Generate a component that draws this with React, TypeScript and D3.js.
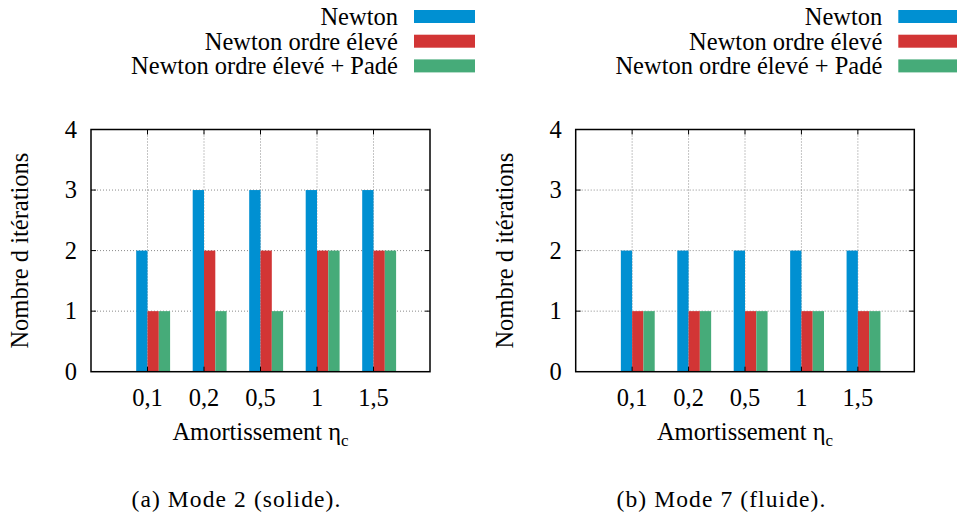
import React from "react";
import * as d3 from "d3";

const categories = ["0,1", "0,2", "0,5", "1", "1,5"];
const seriesNames = ["Newton", "Newton ordre élevé", "Newton ordre élevé + Padé"];
const seriesColors = ["#0090d2", "#d23535", "#46ab79"];
const solideNewton = [2, 3, 3, 3, 3];
const solideOrdre = [1, 2, 2, 2, 2];
const solidePade = [1, 1, 1, 2, 2];
const fluideNewton = [2, 2, 2, 2, 2];
const fluideOrdre = [1, 1, 1, 1, 1];
const fluidePade = [1, 1, 1, 1, 1];
const yTicks = [0, 1, 2, 3, 4];
const yLabel = "Nombre d itérations";
const xLabel = "Amortissement \u03B7";
const captions = ["(a) Mode 2 (solide).", "(b) Mode 7 (fluide)."];

const FONT = "Liberation Serif";
const FS = 24.5;

type PanelProps = {
  left: number;
  right: number;
  series: number[][];
  caption: string;
  captionX: number;
};

function Panel({ left, right, series, caption, captionX }: PanelProps) {
  const top = 129.5;
  const bottom = 371.7;
  const x = d3.scaleLinear().domain([0, categories.length + 1]).range([left, right]);
  const y = d3.scaleLinear().domain([0, 4]).range([bottom, top]);
  const bw = 0.2;
  const cx = (left + right) / 2;
  const tick = 5;
  const ts = { fontFamily: FONT, fontSize: FS };
  return (
    <g>
      {[1, 2, 3].map((v) => (
        <line key={"hg" + v} x1={left} x2={right} y1={y(v)} y2={y(v)} stroke="#8a8a8a" strokeWidth={1} strokeDasharray="1,2" />
      ))}
      {categories.map((c, i) => (
        <line key={"vg" + c} x1={x(i + 1)} x2={x(i + 1)} y1={top} y2={bottom} stroke="#8a8a8a" strokeWidth={1} strokeDasharray="1,2" />
      ))}
      {series.map((vals, j) =>
        vals.map((v, i) => {
          const x0 = x(i + 1 + (j - 1) * bw);
          const x1 = x(i + 1 + j * bw);
          return (
            <rect key={`b${j}-${i}`} x={x0} width={x1 - x0} y={y(v)} height={y(0) - y(v)} fill={seriesColors[j]} />
          );
        })
      )}
      {[1, 2, 3].map((v) => (
        <g key={"yt" + v}>
          <line x1={left} x2={left + tick} y1={y(v)} y2={y(v)} stroke="#000" strokeWidth={1} />
          <line x1={right} x2={right - tick} y1={y(v)} y2={y(v)} stroke="#000" strokeWidth={1} />
        </g>
      ))}
      {categories.map((c, i) => (
        <g key={"xt" + c}>
          <line x1={x(i + 1)} x2={x(i + 1)} y1={bottom} y2={bottom - tick} stroke="#000" strokeWidth={1} />
          <line x1={x(i + 1)} x2={x(i + 1)} y1={top} y2={top + tick} stroke="#000" strokeWidth={1} />
        </g>
      ))}
      <rect x={left} y={top} width={right - left} height={bottom - top} fill="none" stroke="#000" strokeWidth={1.5} />
      {yTicks.map((v) => (
        <text key={"yl" + v} x={left - 14} y={y(v) + 8} textAnchor="end" style={ts}>
          {String(v)}
        </text>
      ))}
      {categories.map((c, i) => (
        <text key={"xl" + c} x={x(i + 1)} y={406} textAnchor="middle" style={ts}>
          {c}
        </text>
      ))}
      <text x={cx} y={440} textAnchor="middle" style={ts}>
        {xLabel}
        <tspan dy={6} style={{ fontSize: 17 }}>c</tspan>
      </text>
      <text
        transform={`translate(${left - 63},${(top + bottom) / 2}) rotate(-90)`}
        textAnchor="middle"
        style={ts}
      >
        {yLabel}
      </text>
      {seriesNames.map((n, j) => (
        <g key={"lg" + n}>
          <text x={right - 32} y={25 + j * 24.7} textAnchor="end" style={ts}>
            {n}
          </text>
          <rect x={right - 16} y={10 + j * 24.7} width={61} height={13} fill={seriesColors[j]} />
        </g>
      ))}
      <text x={captionX} y={507} textAnchor="middle" style={{ fontFamily: FONT, fontSize: 23.5, letterSpacing: 1.1 }}>
        {caption}
      </text>
    </g>
  );
}

export default function App() {
  return (
    <svg width={957} height={522} style={{ position: "absolute", left: 0, top: 0 }}>
      <Panel left={91} right={430} series={[solideNewton, solideOrdre, solidePade]} caption={captions[0]} captionX={236.5} />
      <Panel left={575.7} right={914.3} series={[fluideNewton, fluideOrdre, fluidePade]} caption={captions[1]} captionX={721.5} />
    </svg>
  );
}
